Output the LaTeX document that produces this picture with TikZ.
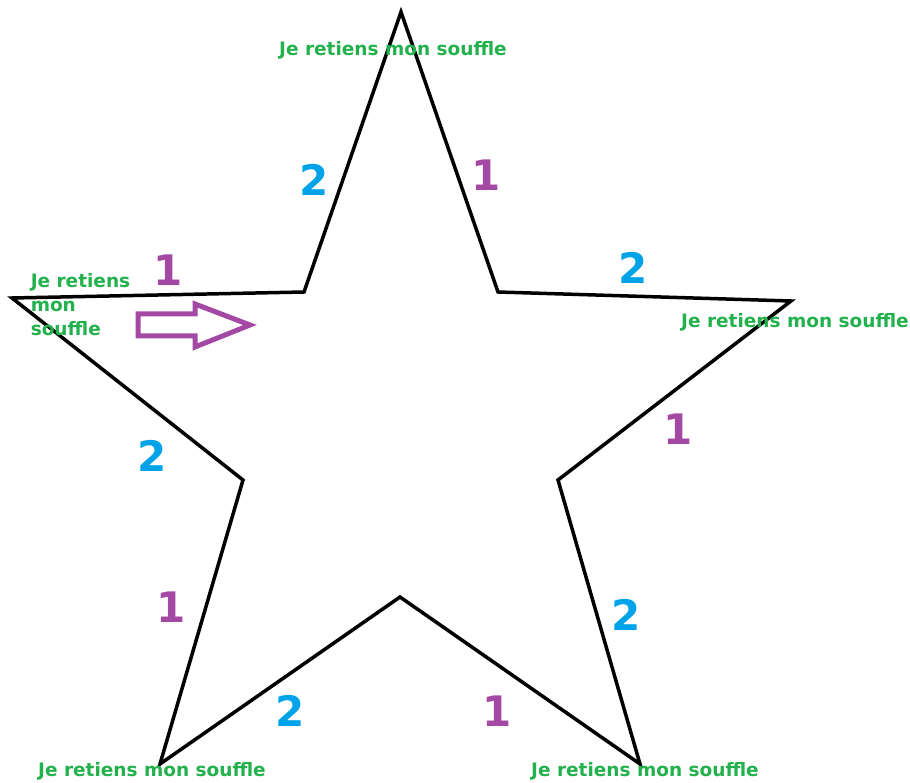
\documentclass[tikz,border=0pt]{standalone}
\usepackage{fontspec}
\setmainfont{DejaVu Sans}
\definecolor{breathgreen}{RGB}{34,177,76}
\definecolor{countblue}{RGB}{0,162,232}
\definecolor{countpurple}{RGB}{163,73,164}

\begin{document}
\begin{tikzpicture}[x=1pt,y=-1pt,line width=3.5pt,line join=miter,
  phrase/.style={text=breathgreen,font=\bfseries\fontsize{18.5}{24}\selectfont,inner sep=0pt},
  inhale/.style={text=countblue,font=\bfseries\fontsize{42}{42}\selectfont,inner sep=0pt},
  exhale/.style={text=countpurple,font=\bfseries\fontsize{42}{42}\selectfont,inner sep=0pt}]
\useasboundingbox (0,0) rectangle (910,783);
% star points
\coordinate (top) at (401,12);
\coordinate (innerTL) at (304,292);
\coordinate (left) at (12,298);
\coordinate (innerL) at (243,480);
\coordinate (botL) at (160,764);
\coordinate (innerB) at (400,597);
\coordinate (botR) at (640,764);
\coordinate (innerR) at (558,480);
\coordinate (right) at (791,301);
\coordinate (innerTR) at (498,292);
% star outline
\draw (top) -- (innerTR) -- (right) -- (innerR) -- (botR) -- (innerB)
  -- (botL) -- (innerL) -- (left) -- (innerTL) -- cycle;
% hold the breath at each tip
\node[phrase] (holdTop) at (393,50) {Je retiens mon souffle};
\node[phrase,anchor=west,align=left] (holdLeft) at (29,305) {Je retiens\\mon\\souffle};
\node[phrase] (holdRight) at (795,322) {Je retiens mon souffle};
\node[phrase] (holdBotL) at (152,771) {Je retiens mon souffle};
\node[phrase] (holdBotR) at (645,771) {Je retiens mon souffle};
% counts along the edges
\node[exhale] (c1) at (168,270) {1};
\node[inhale] (c2) at (314,180) {2};
\node[exhale] (c3) at (486,175) {1};
\node[inhale] (c4) at (633,268) {2};
\node[exhale] (c5) at (678,429) {1};
\node[inhale] (c6) at (626,615) {2};
\node[exhale] (c7) at (497,711) {1};
\node[inhale] (c8) at (290,711) {2};
\node[exhale] (c9) at (171,607) {1};
\node[inhale] (c10) at (152,456) {2};
% direction arrow
\draw[countpurple,line width=5pt] (138,314) -- (195,314) -- (195,304) -- (250,325)
  -- (195,347) -- (195,336) -- (138,336) -- cycle;
\end{tikzpicture}
\end{document}
